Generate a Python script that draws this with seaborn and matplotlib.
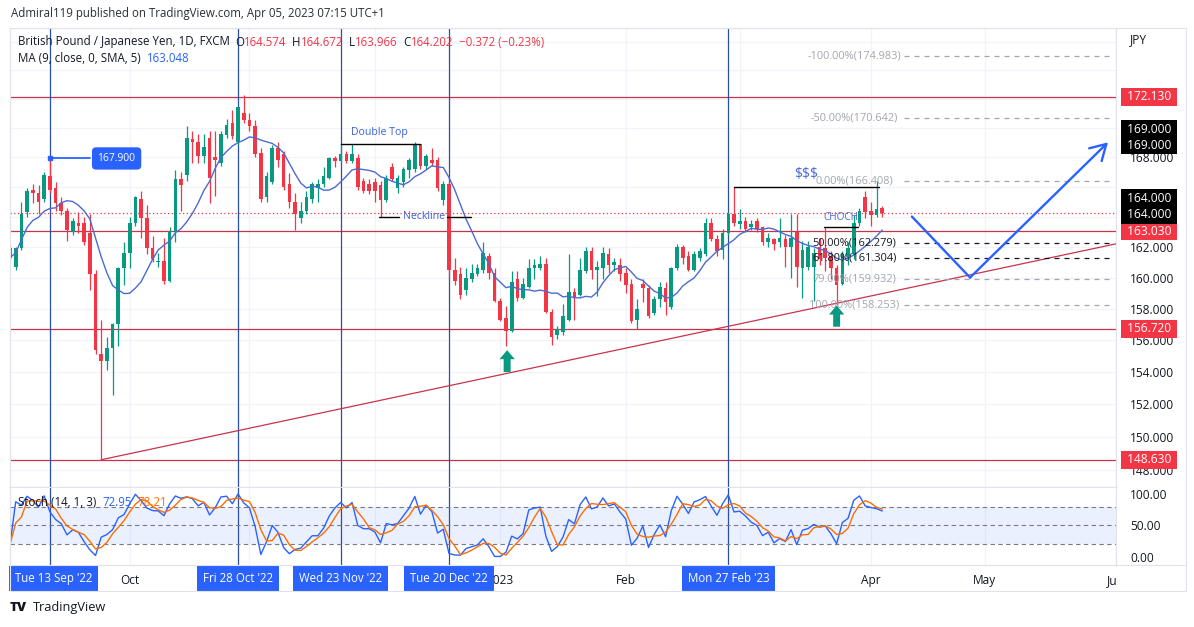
import numpy as np
import pandas as pd
import matplotlib
matplotlib.use('Agg')
import matplotlib.pyplot as plt
import seaborn as sns
from matplotlib.ticker import FixedLocator, FixedFormatter, NullLocator
from matplotlib.transforms import Bbox, TransformedBbox

sns.set_theme(style='white')
plt.rcParams['font.family'] = ['Open Sans', 'DejaVu Sans']
plt.rcParams['axes.unicode_minus'] = False

# ---------------- data ----------------
start_date = '2022-09-02'
opens = [161.9, 160.7, 161.9, 164.3, 165.8, 165.6, 165.2, 166.7, 165.9, 164.9,
         164.4, 163.0, 163.6, 163.6, 162.9, 160.2, 155.1, 154.7, 155.5, 157.0,
         160.6, 161.6, 163.6, 165.2, 163.9, 161.9, 161.0, 161.1, 159.8, 163.0,
         166.5, 166.8, 169.2, 169.0, 168.1, 169.3, 168.0, 167.6, 169.5, 170.3,
         169.0, 171.0, 170.5, 170.1, 168.3, 165.3, 166.3, 168.6, 168.2, 166.2,
         165.0, 163.9, 164.4, 165.2, 165.9, 166.2, 166.6, 167.9, 167.7, 168.2,
         167.7, 167.9, 166.4, 166.2, 166.3, 166.1, 165.1, 167.3, 165.9, 166.3,
         167.1, 167.2, 168.9, 167.4, 167.8, 167.8, 165.1, 166.2, 160.5, 160.2,
         159.2, 159.9, 160.2, 160.5, 161.4, 160.3, 158.5, 157.4, 156.6, 159.9,
         158.7, 159.4, 160.6, 160.6, 160.9, 157.8, 156.3, 156.5, 157.3, 159.1,
         158.9, 160.4, 161.7, 160.5, 160.6, 161.5, 160.8, 160.8, 160.3, 159.6,
         157.3, 159.6, 159.3, 157.7, 158.6, 159.3, 158.1, 160.6, 162.0, 161.4,
         160.5, 161.3, 161.5, 163.6, 162.5, 161.8, 162.9, 164.2, 163.5, 163.7,
         163.3, 163.7, 163.3, 162.3, 162.5, 162.3, 162.5, 162.0, 163.0, 160.6,
         160.7, 160.7, 162.0, 161.9, 161.4, 160.6, 159.6, 161.4, 161.5, 163.6,
         165.3, 164.4, 164.1, 164.574]
highs = [162.1, 162.0, 165.0, 165.9, 166.2, 166.1, 167.0, 167.9, 166.3, 165.3,
         164.6, 163.9, 164.3, 164.0, 164.2, 160.5, 157.3, 156.2, 157.1, 160.7,
         162.3, 164.0, 165.4, 165.7, 164.8, 162.7, 161.6, 162.6, 163.3, 167.1,
         167.0, 170.1, 169.8, 169.6, 169.6, 169.8, 169.8, 169.8, 170.6, 171.2,
         171.4, 172.3, 171.0, 170.5, 168.6, 167.0, 168.8, 169.0, 168.4, 166.9,
         165.6, 165.0, 165.7, 166.3, 166.5, 167.3, 168.0, 168.1, 168.9, 168.4,
         168.9, 168.2, 166.6, 166.5, 166.6, 166.4, 166.8, 167.6, 166.8, 167.3,
         167.9, 169.0, 168.9, 168.2, 168.6, 168.0, 166.4, 166.4, 161.3, 160.7,
         160.6, 160.9, 160.9, 162.3, 161.6, 160.6, 158.7, 158.2, 160.4, 160.4,
         160.0, 161.2, 161.2, 161.4, 161.3, 158.0, 156.9, 158.3, 161.5, 159.3,
         161.3, 162.0, 162.0, 161.1, 162.0, 161.9, 161.3, 161.3, 160.6, 159.9,
         158.6, 159.9, 159.5, 158.8, 159.7, 159.7, 160.7, 162.2, 162.1, 161.7,
         161.7, 161.9, 163.9, 163.9, 162.8, 163.2, 164.3, 166.0, 164.5, 164.0,
         163.8, 163.9, 163.4, 162.9, 162.6, 163.9, 162.8, 164.2, 164.2, 162.4,
         162.4, 161.9, 162.6, 163.3, 161.7, 160.8, 161.7, 162.3, 164.1, 164.6,
         165.7, 165.0, 166.408, 164.672]
lows = [161.1, 160.5, 161.8, 164.0, 164.9, 164.2, 165.0, 165.6, 164.4, 164.1,
        162.4, 162.8, 162.9, 162.1, 159.2, 155.1, 148.63, 154.1, 152.6, 155.6,
        159.5, 160.6, 163.4, 162.6, 161.5, 161.0, 160.7, 159.6, 159.7, 162.3,
        164.4, 166.4, 167.6, 167.6, 167.6, 164.9, 165.4, 167.4, 169.3, 169.2,
        168.8, 170.3, 169.8, 168.0, 165.0, 165.0, 166.2, 167.3, 165.8, 164.6,
        163.1, 163.6, 164.2, 164.9, 165.0, 166.0, 166.5, 167.3, 167.6, 167.6,
        167.6, 165.8, 165.6, 165.5, 165.0, 164.0, 165.0, 166.4, 165.6, 166.0,
        166.6, 167.0, 167.2, 167.2, 167.4, 165.7, 164.8, 160.0, 159.5, 158.6,
        158.9, 159.7, 160.1, 160.3, 159.9, 158.4, 157.2, 155.6, 156.5, 158.5,
        158.6, 159.3, 159.9, 160.5, 157.7, 155.7, 156.1, 156.3, 157.2, 157.3,
        158.8, 160.3, 159.9, 158.8, 159.9, 160.3, 160.4, 159.8, 159.0, 157.1,
        156.7, 158.4, 157.4, 157.6, 158.1, 157.6, 158.0, 160.5, 160.9, 160.4,
        160.4, 161.1, 161.4, 162.4, 161.4, 161.2, 162.8, 163.4, 163.2, 163.0,
        163.1, 163.0, 162.1, 162.0, 161.8, 162.0, 160.7, 160.0, 159.4, 158.7,
        160.5, 158.5, 160.8, 160.4, 159.9, 158.253, 159.5, 160.8, 161.2, 163.4,
        163.9, 163.4, 164.0, 163.966]
closes = [161.3, 161.9, 164.2, 165.7, 165.6, 165.0, 166.8, 165.8, 164.9, 164.4,
          163.1, 163.7, 163.4, 162.3, 160.2, 155.4, 154.7, 155.5, 157.0, 160.6,
          161.6, 163.6, 165.3, 163.9, 161.9, 161.2, 161.1, 159.8, 163.0, 166.5,
          166.1, 169.3, 169.0, 168.1, 168.7, 166.6, 167.8, 169.6, 170.2, 169.4,
          171.4, 170.5, 170.1, 168.2, 165.2, 166.7, 168.6, 167.8, 166.0, 165.0,
          164.2, 164.4, 165.3, 166.2, 166.2, 166.7, 167.9, 167.7, 168.2, 167.7,
          168.2, 166.0, 165.7, 165.7, 165.7, 165.1, 166.6, 166.5, 166.6, 167.2,
          167.8, 168.8, 167.4, 168.1, 167.6, 165.9, 166.2, 160.5, 159.8, 158.9,
          160.0, 160.3, 160.6, 161.6, 160.3, 158.5, 157.3, 156.6, 159.7, 158.7,
          159.6, 160.6, 160.8, 160.9, 157.8, 156.2, 156.7, 157.5, 159.1, 158.7,
          160.5, 161.7, 160.5, 160.7, 161.6, 160.8, 161.0, 160.2, 159.5, 157.2,
          158.0, 159.3, 157.5, 158.6, 159.4, 158.4, 160.6, 162.0, 161.3, 160.5,
          161.5, 161.7, 163.6, 162.5, 161.7, 162.9, 164.2, 163.6, 163.7, 163.2,
          163.5, 163.2, 162.3, 162.6, 162.2, 162.6, 162.0, 162.6, 160.7, 161.8,
          162.0, 161.6, 161.2, 161.3, 160.6, 159.5, 161.5, 161.9, 163.6, 164.4,
          164.3, 164.1, 164.5, 164.202]

hlines_red = [172.130, 163.030, 156.720, 148.630]
last_price = 164.202
price_ticks = [148, 150, 152, 154, 156, 158, 160, 162, 164, 166, 168, 170, 172, 174, 176]
price_tick_shown = [148, 150, 152, 154, 156, 158, 160, 162, 168]
stoch_ticks = [0, 50, 100]
stoch_tick_labels = ['0.00', '50.00', '100.00']

vline_dates = ['2022-09-13', '2022-10-28', '2022-11-23', '2022-12-20', '2023-02-27']
vline_labels = ["Tue 13 Sep '22", "Fri 28 Oct '22", "Wed 23 Nov '22", "Tue 20 Dec '22", "Mon 27 Feb '23"]
month_dates = ['2022-10-03', '2022-11-01', '2022-12-01', '2023-01-02', '2023-02-01',
               '2023-03-01', '2023-04-03', '2023-05-01', '2023-06-01']
month_labels = ['Oct', '', '', '2023', 'Feb', '', 'Apr', 'May', 'Jun']

fib_levels = [174.983, 170.642, 166.408, 162.279, 161.304, 159.932, 158.253]
fib_labels = ['-100.00%(174.983)', '-50.00%(170.642)', '0.00%(166.408)', '50.00%(162.279)',
              '61.80%(161.304)', '79.00%(159.932)', '100.00%(158.253)']
fib_dark = [False, False, False, True, True, False, False]

black_labels = [169.0, 164.0]

# ---------------- derived ----------------
all_days = pd.bdate_range(start_date, '2023-06-30')
n = len(closes)
df = pd.DataFrame({'date': all_days[:n], 'open': opens, 'high': highs, 'low': lows, 'close': closes})
df['i'] = np.arange(n)
df['ma'] = df['close'].rolling(9, min_periods=1).mean()
hh = df['high'].rolling(14, min_periods=1).max()
ll = df['low'].rolling(14, min_periods=1).min()
df['k'] = 100 * (df['close'] - ll) / (hh - ll)
df['d'] = df['k'].rolling(3, min_periods=1).mean()


def day_idx(d):
    return int(all_days.get_indexer([pd.Timestamp(d)])[0])


# ---------------- figure ----------------
W, H = 1194, 627
fig = plt.figure(figsize=(W / 100, H / 100), dpi=100)
fig.patch.set_facecolor('white')

def fx(px):
    return px / W

def fy(py):
    return 1 - py / H

L, R = 10, 1116
T_MAIN, B_MAIN, B_ST = 28, 487, 565
ax = fig.add_axes([fx(L), fy(B_MAIN), fx(R - L), (B_MAIN - T_MAIN) / H])
axs = fig.add_axes([fx(L), fy(B_ST), fx(R - L), (B_ST - B_MAIN) / H], sharex=ax)

GREEN = '#089981'
RED = '#f23645'
BLUE = '#2962ff'
DARK = '#131722'
GRID = '#f0f3fa'
LINE_RED = '#c8334a'
VBLUE = '#2c4fa6'
FS = 8.3
FSA = 8.6

xmax = 194.0
ax.set_yscale('log')
ax.set_ylim(147.0, 177.0)
ax.set_xlim(0, xmax)
axs.set_ylim(-12.7, 111)

for a in (ax, axs):
    for s in a.spines.values():
        s.set_color('#e0e3eb')
        s.set_linewidth(0.8)
    a.set_facecolor('white')

# grid
month_idx = [day_idx(d) for d in month_dates]
for a in (ax, axs):
    for m in month_idx:
        a.axvline(m, color=GRID, lw=0.9, zorder=0)
for p in price_ticks:
    ax.axhline(p, color=GRID, lw=0.9, zorder=0)

# y ticks
ax.yaxis.tick_right()
ax.yaxis.set_major_locator(FixedLocator(price_ticks))
ax.yaxis.set_major_formatter(FixedFormatter([f'{p:.3f}' if p in price_tick_shown else '' for p in price_ticks]))
ax.yaxis.set_minor_locator(NullLocator())
ax.tick_params(axis='y', length=0, pad=10, labelsize=FSA, labelcolor=DARK)
ax.tick_params(axis='x', length=0, labelbottom=False)

axs.yaxis.tick_right()
axs.set_yticks(stoch_ticks)
axs.set_yticklabels(stoch_tick_labels)
axs.tick_params(axis='y', length=0, pad=10, labelsize=FSA, labelcolor=DARK)
axs.set_xticks(month_idx)
axs.set_xticklabels(month_labels)
axs.tick_params(axis='x', length=0, pad=6.5, labelsize=FSA, labelcolor=DARK)
clipbox = TransformedBbox(Bbox([[fx(L), 0], [fx(R), 1]]), fig.transFigure)
for lab in axs.get_xticklabels():
    lab.set_clip_box(clipbox)
    lab.set_clip_on(True)
ax.set_xlabel('')
ax.set_ylabel('')
axs.set_xlabel('')
axs.set_ylabel('')

# horizontal red lines + last price line
for p in hlines_red:
    ax.axhline(p, color=LINE_RED, lw=0.9, zorder=1)
ax.axhline(last_price, color=RED, lw=0.9, ls=(0, (1, 2)), zorder=1)

# vertical blue lines
vidx = [day_idx(d) for d in vline_dates]
for a in (ax, axs):
    for v in vidx:
        a.axvline(v, color=VBLUE, lw=0.9, zorder=1)

# trend line from the flash-crash low
low_i = int(np.argmin(lows))
ax.plot([low_i, xmax], [lows[low_i], 162.2], color=LINE_RED, lw=0.9, zorder=1)

# candles
up = df['close'] >= df['open']
colors = np.where(up, GREEN, RED)
ax.vlines(df['i'], df['low'], df['high'], colors=colors, lw=0.9, zorder=2)
body_lo = np.minimum(df['open'], df['close'])
body_hi = np.maximum(df['open'], df['close'])
body_h = np.maximum(body_hi - body_lo, 0.06)
ax.bar(df['i'], body_h, bottom=body_lo, width=0.64, color=colors, edgecolor='none', zorder=2.5)

# MA line
sns.lineplot(x=df['i'], y=df['ma'], ax=ax, color='#4a6bd0', lw=1.0, legend=False, zorder=3)
ax.set_xlabel('')
ax.set_ylabel('')

# stochastic pane
axs.axhspan(20, 80, color=BLUE, alpha=0.09, lw=0, zorder=0)
for lv in (20, 50, 80):
    axs.axhline(lv, color='#787b86', lw=0.8, ls=(0, (4, 3)), zorder=1)
sns.lineplot(x=df['i'], y=df['k'], ax=axs, color=BLUE, lw=1.0, legend=False, zorder=3)
sns.lineplot(x=df['i'], y=df['d'], ax=axs, color='#ff6d00', lw=1.0, legend=False, zorder=3)
axs.set_xlabel('')
axs.set_ylabel('')

# fib levels
fib_x_text = 148.1
for lv, lab, dark in zip(fib_levels, fib_labels, fib_dark):
    c = '#131722' if dark else '#a3a6af'
    ax.hlines(lv, 156.8, 193.2, colors=c, lw=0.9, linestyles=(0, (4, 4)), zorder=2)
    ax.text(fib_x_text, lv, lab, color=c, fontsize=7.9, ha='center', va='center', zorder=4)

# liquidity line, $$$
ax.plot([127, 152.5], [highs[127], highs[127]], color='black', lw=1.0, zorder=4)
ax.text(139.7, 166.8, '$$$', color='#4a6bd0', fontsize=10, ha='center', va='center', zorder=4)

# CHOCH
ax.plot([142.8, 148.8], [163.33, 163.33], color='black', lw=1.0, zorder=4)
ax.text(145.7, 163.96, 'CHOCH', color='#4a6bd0', fontsize=7.2, ha='center', va='center', zorder=4)

# Double top + neckline
ax.plot([58, 72], [168.9, 168.9], color='black', lw=1.0, zorder=4)
ax.text(64.8, 169.65, 'Double Top', color='#3d63d6', fontsize=7.6, ha='center', va='center', zorder=4)
ax.plot([64.8, 68.3], [164.0, 164.0], color='black', lw=1.0, zorder=4)
ax.plot([76.6, 80.9], [164.0, 164.0], color='black', lw=1.0, zorder=4)
ax.text(72.6, 164.0, 'Neckline', color='#3d63d6', fontsize=7.6, ha='center', va='center', zorder=4)

# 167.900 marker
ax.plot([7, 14], [167.9, 167.9], color=BLUE, lw=1.3, zorder=4)
ax.plot([7], [167.9], marker='s', ms=3, color=BLUE, zorder=4)
ax.text(18.7, 167.9, '167.900', color='white', fontsize=7.4, ha='center', va='center', zorder=5,
        bbox=dict(boxstyle='round,pad=0.55,rounding_size=0.4', fc=BLUE, ec='none'))

# green arrows
for xi, tip, base in [(87.2, 155.37, 154.0), (145.0, 158.2, 156.85)]:
    ax.annotate('', xy=(xi, tip), xytext=(xi, base),
                arrowprops=dict(arrowstyle='simple,head_width=1.1,head_length=0.65,tail_width=0.5',
                                fc=GREEN, ec='none', mutation_scale=10, shrinkA=0, shrinkB=0), zorder=5)

# projected path
ax.plot([158.2, 168.4], [164.0, 160.0], color=BLUE, lw=1.7, zorder=4, solid_capstyle='round')
ax.annotate('', xy=(192.6, 169.0), xytext=(168.4, 160.0),
            arrowprops=dict(arrowstyle='->,head_length=0.55,head_width=0.32', color=BLUE, lw=1.7,
                            mutation_scale=20, shrinkA=0, shrinkB=0), zorder=4)

# price axis labels (boxes)
lab_x = (1149 - L) / (R - L)
for p in hlines_red:
    ax.annotate(f' {p:.3f} ', xy=(lab_x, p), xycoords=('axes fraction', 'data'), ha='center', va='center',
                fontsize=FSA, color='white', annotation_clip=False, zorder=6,
                bbox=dict(boxstyle='square,pad=0.22', fc=RED, ec='none'))
label_offsets = {169.0: (-3, 13), 164.0: (2, 18)}
for p in black_labels:
    for off in label_offsets[p]:
        ax.annotate(f' {p:.3f} ', xy=(lab_x, p), xycoords=('axes fraction', 'data'),
                    xytext=(0, off), textcoords='offset pixels', ha='center', va='center',
                    fontsize=FSA, color='white', annotation_clip=False, zorder=6,
                    bbox=dict(boxstyle='square,pad=0.22', fc='#000000', ec='none'))
fig.text(fx(1130), fy(40), 'JPY', fontsize=FSA, color=DARK, ha='left', va='center')

# date boxes
for k, (v, lab) in enumerate(zip(vidx, vline_labels)):
    if k == 0:
        axs.annotate(lab, xy=(0, -0.17), xycoords=('data', 'axes fraction'), xytext=(5, 0),
                     textcoords='offset pixels', ha='left', va='center', fontsize=FS, color='white',
                     annotation_clip=False, zorder=6,
                     bbox=dict(boxstyle='square,pad=0.5', fc=BLUE, ec='none'))
    else:
        axs.annotate(lab, xy=(v, -0.17), xycoords=('data', 'axes fraction'), ha='center', va='center',
                     fontsize=FS, color='white', annotation_clip=False, zorder=6,
                     bbox=dict(boxstyle='square,pad=0.5', fc=BLUE, ec='none'))

# text runs
renderer = fig.canvas.get_renderer()

def run(x_px, y_px, pieces, size=FS):
    x = x_px
    for s, c, gap in pieces:
        t = fig.text(fx(x), fy(y_px), s, color=c, fontsize=size, ha='left', va='center', zorder=10)
        x += t.get_window_extent(renderer).width + gap

run(11, 14, [('Admiral119 published on TradingView.com, Apr 05, 2023 07:15 UTC+1', '#2a2e39', 0)])
run(18, 42, [('British Pound / Japanese Yen, 1D, FXCM', DARK, 5),
             ('O', DARK, 0), ('164.574', RED, 6),
             ('H', DARK, 0), ('164.672', RED, 6),
             ('L', DARK, 0), ('163.966', RED, 6),
             ('C', DARK, 0), ('164.202', RED, 6),
             ('\u22120.372 (\u22120.23%)', RED, 0)])
run(18, 59, [('MA (9, close, 0, SMA, 5)', DARK, 6), ('163.048', BLUE, 0)])
run(18, 502, [('Stoch (14, 1, 3)', DARK, 6), ('72.95', BLUE, 6), ('78.21', '#ff6d00', 0)])

# footer
fig.text(fx(10), fy(608), 'TV', fontsize=9.5, fontweight='black', color=DARK, ha='left', va='center')
fig.text(fx(33), fy(608), 'TradingView', fontsize=9.2, color=DARK, ha='left', va='center')

# outer frame
frame = plt.Rectangle((fx(L), fy(591)), fx(1186 - L), (591 - T_MAIN) / H, transform=fig.transFigure,
                      fill=False, ec='#e0e3eb', lw=0.8)
fig.patches.append(frame)
fig.add_artist(plt.Line2D([fx(L), fx(1186)], [fy(565), fy(565)], color='#e0e3eb', lw=0.8,
                          transform=fig.transFigure))

fig.savefig('out.png', dpi=100, facecolor='white')
